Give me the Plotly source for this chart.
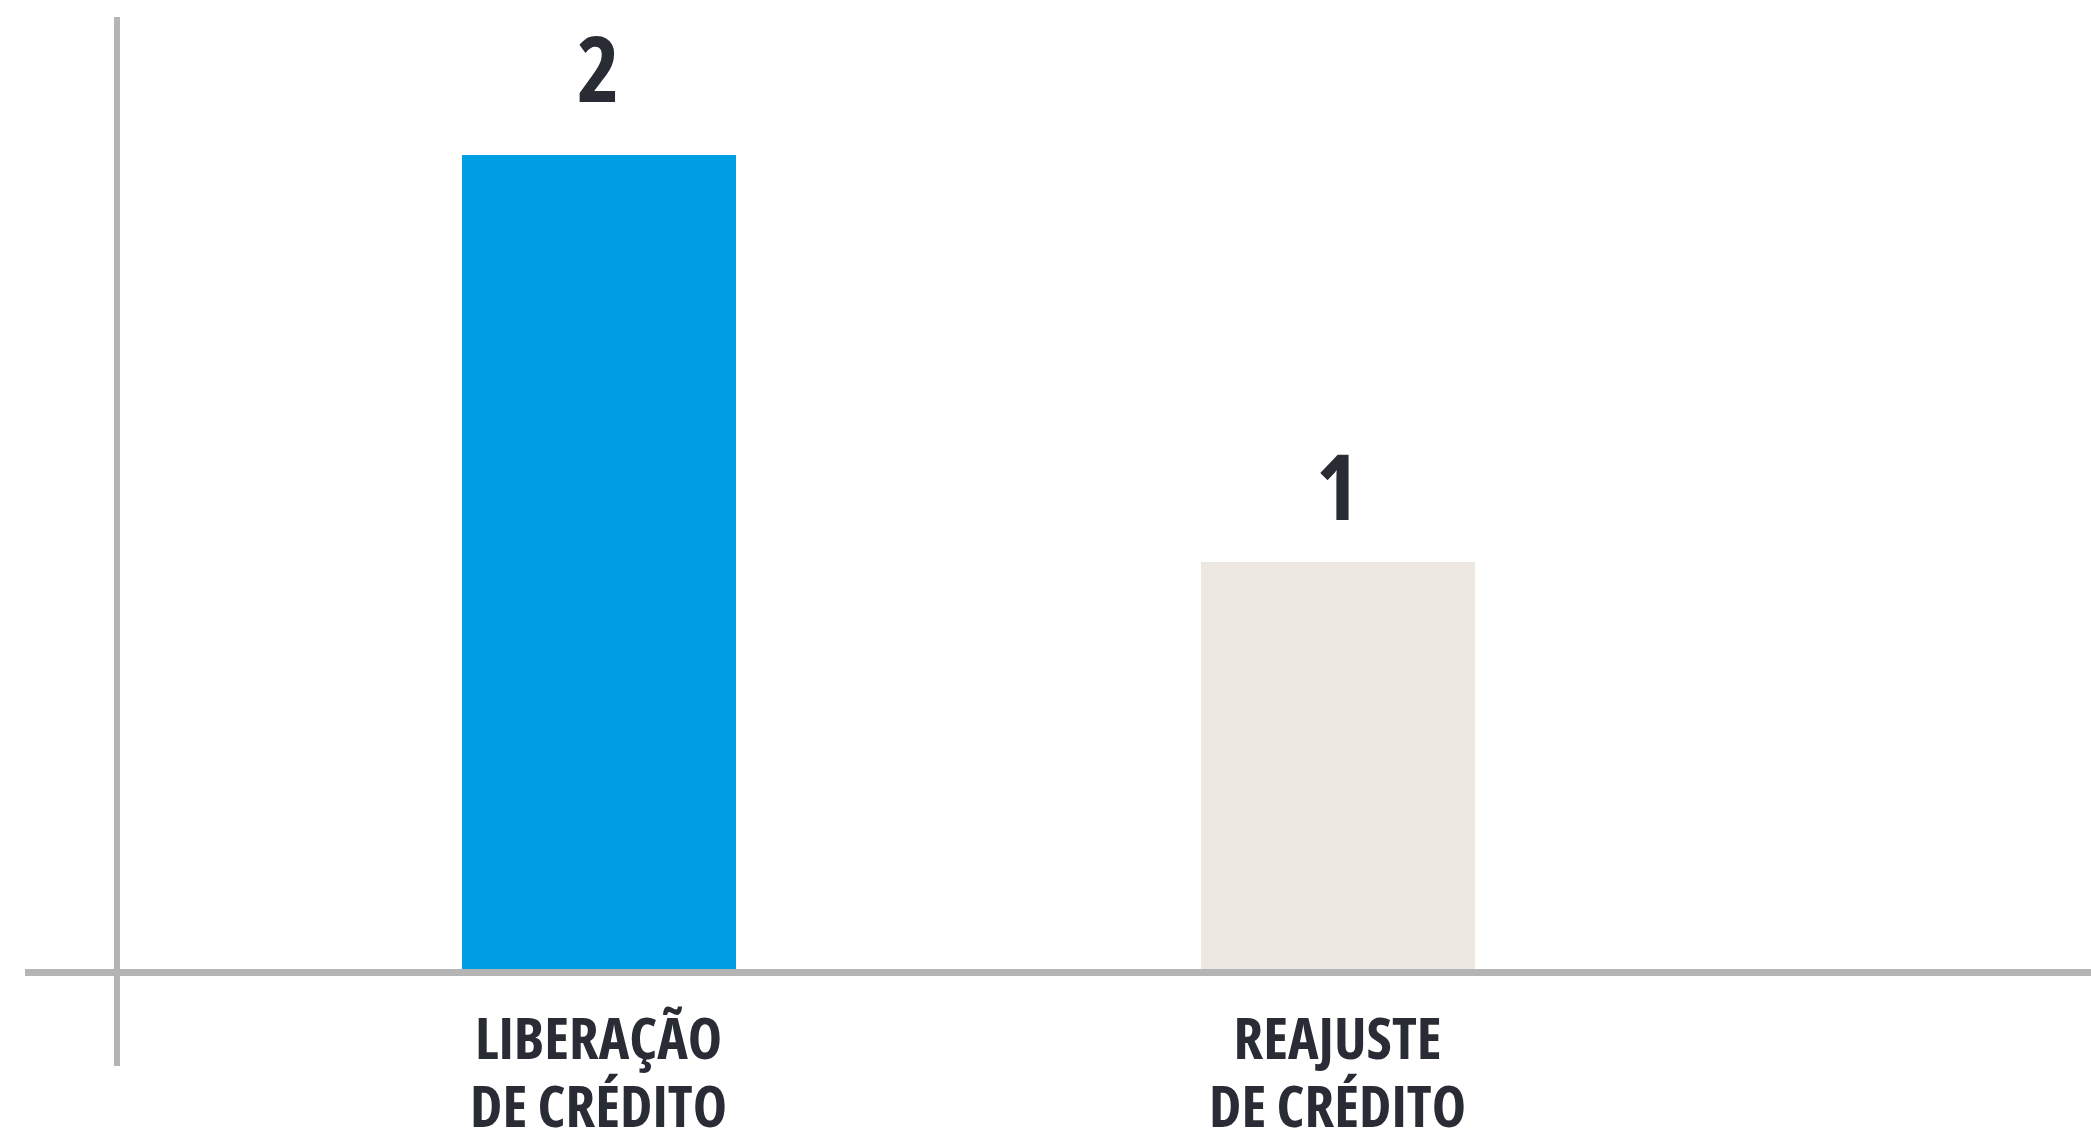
import plotly.graph_objects as go

categories = ["LIBERAÇÃO\nDE CRÉDITO", "REAJUSTE\nDE CRÉDITO"]
values = [2, 1]
bar_colors = ["#009FE3", "#ECE7E1"]

# pixel offset of each value label above its bar (style only)
label_offsets = [88, 77]

TEXT = "#2A2C35"
GRAY = "#B4B4B4"
FONT = "Open Sans, Roboto, sans-serif"

W, H = 2091, 1133
xpos = list(range(len(categories)))


def cond(s, size=None):
    st = "font-stretch:condensed"
    if size:
        st += f";font-size:{size}px"
    return f'<span style="{st}"><b>{s}</b></span>'


fig = go.Figure()
fig.add_trace(go.Bar(
    x=xpos, y=values, marker_color=bar_colors, width=0.371,
    marker_line_width=0, hoverinfo="skip", showlegend=False,
))

annotations = []
for i, (cat, v) in enumerate(zip(categories, values)):
    annotations.append(dict(
        x=i, y=v, xref="x", yref="y", text=cond(v), showarrow=False,
        yanchor="middle", xanchor="center", yshift=label_offsets[i],
        font=dict(family=FONT, size=91, color=TEXT)))
    lines = [cond(line, 58) for line in cat.split("\n")]
    annotations.append(dict(
        x=i, y=0, xref="x", yref="paper", text="<br>".join(lines),
        showarrow=False, yanchor="top", xanchor="center", yshift=-26,
        font=dict(family=FONT, size=52, color=TEXT)))

shapes = [
    # horizontal baseline (extends left of vertical axis)
    dict(type="line", xref="paper", yref="paper",
         x0=(25 - 117) / (W - 117), x1=1, y0=-3.5 / 952, y1=-3.5 / 952,
         line=dict(color=GRAY, width=7), layer="above"),
    # vertical axis (extends below baseline)
    dict(type="line", xref="paper", yref="paper",
         x0=0, x1=0, y0=(969 - 1066) / 952, y1=1,
         line=dict(color=GRAY, width=6), layer="above"),
]

fig.update_layout(
    width=W, height=H,
    margin=dict(l=117, r=0, t=17, b=164, pad=0),
    paper_bgcolor="white", plot_bgcolor="white",
    xaxis=dict(range=[-0.652, 2.019], showgrid=False, zeroline=False,
               showticklabels=False, showline=False, ticks="", fixedrange=True),
    yaxis=dict(range=[0, 2.339], showgrid=False, zeroline=False,
               showticklabels=False, showline=False, ticks="", fixedrange=True),
    annotations=annotations, shapes=shapes,
    bargap=0,
)

fig.write_html(
    "out.html",
    config={"displayModeBar": False},
    post_script="document.body.style.margin='0';document.body.style.overflow='hidden';",
)
